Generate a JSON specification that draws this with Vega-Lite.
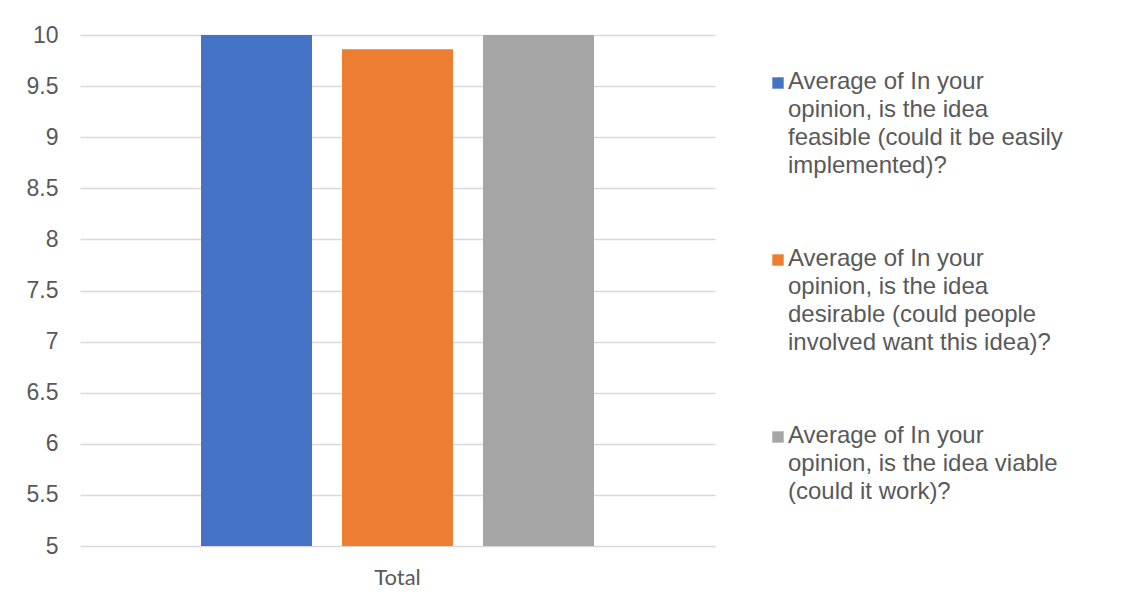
{
  "$schema": "https://vega.github.io/schema/vega-lite/v6.json",
  "width": 635,
  "height": 511,
  "autosize": {"type": "none"},
  "padding": {"left": 80, "top": 35, "right": 430, "bottom": 61},
  "background": "white",
  "config": {
    "view": {"stroke": null},
    "font": "Liberation Sans"
  },
  "data": {
    "values": [
      {"category": "Total", "series": "Average of In your|opinion, is the idea|feasible (could it be easily|implemented)?", "value": 10},
      {"category": "Total", "series": "Average of In your|opinion, is the idea|desirable (could people|involved want this idea)?", "value": 9.86},
      {"category": "Total", "series": "Average of In your|opinion, is the idea viable|(could it work)?", "value": 10}
    ]
  },
  "mark": {"type": "bar"},
  "encoding": {
    "x": {
      "field": "category",
      "type": "nominal",
      "scale": {"paddingInner": 0, "paddingOuter": 0},
      "axis": {
        "title": null,
        "labelAngle": 0,
        "ticks": false,
        "domain": false,
        "labelFont": "Lato",
        "labelFontSize": 22,
        "labelColor": "#595959",
        "labelPadding": 21
      }
    },
    "xOffset": {
      "field": "series",
      "type": "nominal",
      "sort": null,
      "scale": {"paddingInner": 0.213, "paddingOuter": 0.858}
    },
    "y": {
      "field": "value",
      "type": "quantitative",
      "scale": {"domain": [5, 10], "nice": false, "zero": false},
      "axis": {
        "title": null,
        "values": [5, 5.5, 6, 6.5, 7, 7.5, 8, 8.5, 9, 9.5, 10],
        "format": "~g",
        "ticks": false,
        "domain": false,
        "gridColor": "#d9d9d9",
        "gridWidth": 1.3,
        "labelFontSize": 23,
        "labelColor": "#595959",
        "labelPadding": 22
      }
    },
    "y2": {"datum": 5},
    "color": {
      "field": "series",
      "type": "nominal",
      "sort": null,
      "scale": {"range": ["#4472C4", "#ED7D31", "#A5A5A5"]},
      "legend": {
        "title": null,
        "orient": "none",
        "legendX": 686,
        "legendY": 36,
        "symbolType": "square",
        "symbolSize": 130,
        "symbolStrokeWidth": 0,
        "labelExpr": "split(datum.label, '|')",
        "labelFontSize": 24,
        "labelColor": "#595959",
        "labelLimit": 0,
        "labelOffset": -2,
        "rowPadding": 69,
        "labelBaseline": "alphabetic",
        "encode": {
          "labels": {"update": {"lineHeight": {"value": 28}, "dy": {"value": 6}}}
        }
      }
    }
  }
}
